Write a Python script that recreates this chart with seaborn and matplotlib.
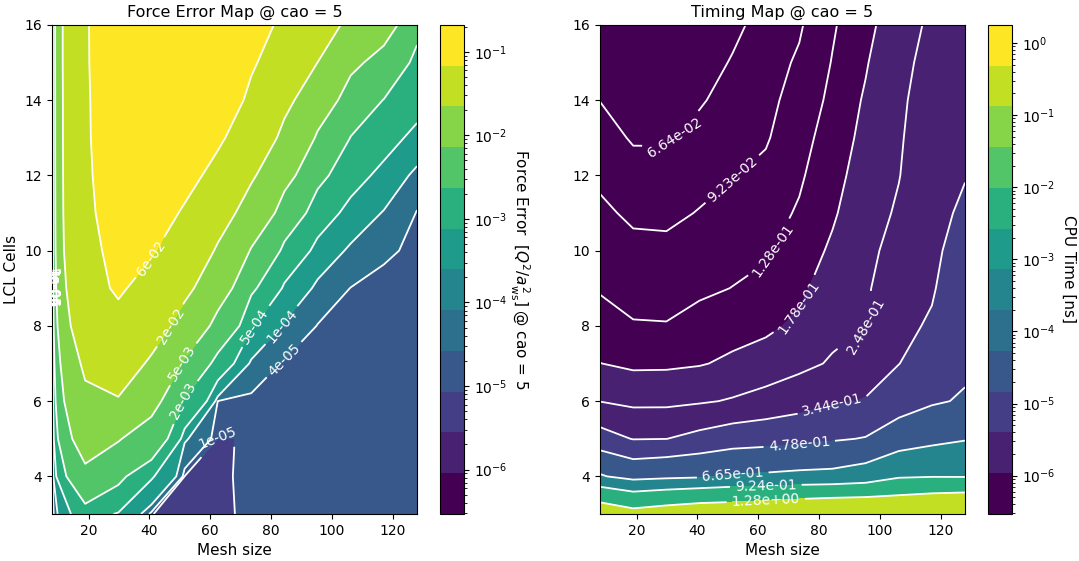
import numpy as np
import matplotlib
matplotlib.use("Agg")
import matplotlib.pyplot as plt
from matplotlib.colors import LogNorm, Normalize
from matplotlib.cm import ScalarMappable
from matplotlib.ticker import NullFormatter
import seaborn as sns

# grid of the scan
mesh_sizes = [8, 18.9, 29.8, 40.7, 51.6, 62.5, 73.5, 84.4, 95.3, 106.2, 117.1, 128]
lcl_cells = [3, 4, 5, 6, 7, 8, 9, 10, 11, 12, 13, 14, 15, 16]

# force error, one row per LCL cell count (3 .. 16), one column per mesh size
force_error = [
    [2.94e-7, 8e-4, 4e-4, 1.2e-5, 6e-6, 7e-6, 1.6e-5, 1.8e-5, 1.9e-5, 2e-5, 2e-5, 2.2e-5],
    [4e-7, 3.6e-3, 1.9e-3, 5e-4, 1.1e-5, 8e-6, 1.6e-5, 1.8e-5, 2e-5, 2e-5, 2.1e-5, 2.3e-5],
    [5e-7, 8.7e-3, 5.6e-3, 2.9e-3, 1.5e-4, 1.14e-5, 1.18e-5, 1.9e-5, 2e-5, 2.1e-5, 2.2e-5, 2.4e-5],
    [5e-7, 1.45e-2, 1.65e-2, 7e-3, 1.3e-3, 3.9e-5, 2.6e-5, 2.2e-5, 2.2e-5, 2.3e-5, 2.3e-5, 2.5e-5],
    [6e-7, 2.1e-2, 3.0e-2, 1.5e-2, 4.5e-3, 8e-4, 9e-5, 3.2e-5, 2.6e-5, 2.6e-5, 2.5e-5, 2.6e-5],
    [6e-7, 3.2e-2, 4.6e-2, 2.8e-2, 1.1e-2, 3.5e-3, 5e-4, 1.1e-4, 3.7e-5, 3e-5, 2.7e-5, 2.8e-5],
    [6e-7, 4.2e-2, 6.8e-2, 4.3e-2, 2.2e-2, 8e-3, 1.8e-3, 3.5e-4, 9e-5, 3.8e-5, 3e-5, 3e-5],
    [7e-7, 5.0e-2, 7.25e-2, 6.6e-2, 3.4e-2, 1.6e-2, 4.8e-3, 1.1e-3, 2.8e-4, 1e-4, 4.5e-5, 3.3e-5],
    [7e-7, 5.3e-2, 8.0e-2, 9e-2, 5.5e-2, 2.6e-2, 1.1e-2, 3e-3, 8e-4, 2.8e-4, 1.2e-4, 3.6e-5],
    [7e-7, 5.4e-2, 8.75e-2, 0.115, 8e-2, 4.5e-2, 2e-2, 7e-3, 2e-3, 7e-4, 3e-4, 8e-5],
    [8e-7, 5.5e-2, 9.3e-2, 0.14, 0.11, 7e-2, 3.2e-2, 1.4e-2, 4.5e-3, 1.5e-3, 7e-4, 3e-4],
    [8e-7, 5.5e-2, 9.7e-2, 0.16, 0.14, 0.1, 5e-2, 2.2e-2, 9e-3, 3e-3, 1.5e-3, 7e-4],
    [8e-7, 5.6e-2, 0.1, 0.18, 0.17, 0.13, 6.8e-2, 3.3e-2, 1.8e-2, 6.5e-3, 3.5e-3, 1e-3],
    [8e-7, 5.6e-2, 0.103, 0.2, 0.2094, 0.16, 9e-2, 4.8e-2, 3e-2, 1.29e-2, 7.5e-3, 2.2e-3],
]

# CPU time [ns], same layout
cpu_time = [
    [1.553, 1.405, 1.48, 1.547, 1.567, 1.616, 1.666, 1.711, 1.71, 1.671, 1.735, 1.7838],
    [0.683, 0.595, 0.62, 0.638, 0.679, 0.692, 0.708, 0.716, 0.762, 0.895, 0.913, 0.91],
    [0.388, 0.34, 0.343, 0.375, 0.406, 0.42, 0.441, 0.463, 0.485, 0.553, 0.61, 0.652],
    [0.246, 0.229, 0.229, 0.239, 0.254, 0.274, 0.297, 0.329, 0.35, 0.419, 0.462, 0.492],
    [0.179, 0.167, 0.168, 0.174, 0.189, 0.206, 0.229, 0.255, 0.295, 0.342, 0.408, 0.455],
    [0.149, 0.131, 0.130, 0.143, 0.156, 0.166, 0.190, 0.229, 0.247, 0.321, 0.355, 0.437],
    [0.124, 0.115, 0.115, 0.121, 0.129, 0.141, 0.166, 0.208, 0.237, 0.30, 0.335, 0.412],
    [0.111, 0.0999, 0.099, 0.107, 0.116, 0.122, 0.150, 0.187, 0.226, 0.278, 0.324, 0.387],
    [0.098, 0.087, 0.086, 0.0937, 0.103, 0.111, 0.133, 0.171, 0.216, 0.257, 0.313, 0.362],
    [0.0867, 0.0755, 0.075, 0.0834, 0.091, 0.100, 0.122, 0.158, 0.206, 0.245, 0.301, 0.34],
    [0.076, 0.064, 0.064, 0.0736, 0.083, 0.089, 0.114, 0.146, 0.195, 0.24, 0.29, 0.325],
    [0.066, 0.058, 0.058, 0.064, 0.075, 0.0835, 0.105, 0.137, 0.185, 0.236, 0.279, 0.31],
    [0.060, 0.052, 0.053, 0.058, 0.0679, 0.078, 0.097, 0.13, 0.173, 0.231, 0.267, 0.295],
    [0.055, 0.04778, 0.049, 0.053, 0.062, 0.0733, 0.088, 0.124, 0.155, 0.227, 0.256, 0.28],
]

cao = 5

sns.set_style("ticks", {"axes.edgecolor": "black", "text.color": "black",
                        "axes.labelcolor": "black", "xtick.color": "black",
                        "ytick.color": "black"})
plt.rcParams["font.family"] = ["DejaVu Sans"]

X, Y = np.meshgrid(mesh_sizes, lcl_cells)
F = np.array(force_error)
T = np.array(cpu_time)
# 12 discrete viridis colours, used for the maps and the colorbars
cmap12 = matplotlib.colormaps["viridis"].resampled(12)

f_levels = np.geomspace(F.min(), F.max(), 12)
t_levels = np.geomspace(T.min(), T.max(), 12)

fig = plt.figure(figsize=(10.79, 5.61), dpi=100)
ax1 = fig.add_axes([0.0482, 0.0838, 0.3383, 0.8717])
cax1 = fig.add_axes([0.4078, 0.0838, 0.0222, 0.8717])
ax2 = fig.add_axes([0.5561, 0.0838, 0.3383, 0.8717])
cax2 = fig.add_axes([0.9157, 0.0838, 0.0222, 0.8717])

#force error map
ax1.contourf(X, Y, F, levels=f_levels, cmap=cmap12,
             norm=LogNorm(vmin=F.min(), vmax=F.max()))
cs1 = ax1.contour(X, Y, F, levels=f_levels, colors="white", linewidths=1.3)
ax1.clabel(cs1, fmt="%.0e", fontsize=10, colors="white")
ax1.set_title(f"Force Error Map @ cao = {cao}", fontsize=11.5)
ax1.set_xlabel("Mesh size", fontsize=11)
ax1.set_ylabel("LCL Cells", fontsize=11)

sm1 = ScalarMappable(norm=LogNorm(vmin=F.min(), vmax=F.max()), cmap=cmap12)
cb1 = fig.colorbar(sm1, cax=cax1)
cb1.set_label(r"Force Error  $[Q^2/a_{\rm ws}^2]$ @ cao = " + str(cao),
              rotation=270, labelpad=17, fontsize=11)

#timing map
ax2.contourf(X, Y, T, levels=t_levels, cmap=cmap12,
             norm=Normalize(vmin=T.min(), vmax=T.max()))
cs2 = ax2.contour(X, Y, T, levels=t_levels, colors="white", linewidths=1.3)
ax2.clabel(cs2, fmt="%.2e", fontsize=10, colors="white")
ax2.set_title(f"Timing Map @ cao = {cao}", fontsize=11.5)
ax2.set_xlabel("Mesh size", fontsize=11)

sm2 = ScalarMappable(norm=LogNorm(vmin=F.min(), vmax=T.max()), cmap=cmap12)
cb2 = fig.colorbar(sm2, cax=cax2)
cb2.set_label("CPU Time [ns]", rotation=270, labelpad=15, fontsize=11)

for ax in (ax1, ax2):
    ax.grid(True, linestyle="--", alpha=0.3)
    ax.tick_params(labelsize=10)
for cb, sm in ((cb1, sm1), (cb2, sm2)):
    # only the decades that fall inside the bar
    lo = np.ceil(np.log10(sm.norm.vmin))
    hi = np.floor(np.log10(sm.norm.vmax))
    cb.set_ticks(10.0 ** np.arange(lo, hi + 1))
    cb.ax.tick_params(labelsize=10)
    cb.ax.yaxis.set_minor_formatter(NullFormatter())

fig.savefig("out.png", dpi=100)
